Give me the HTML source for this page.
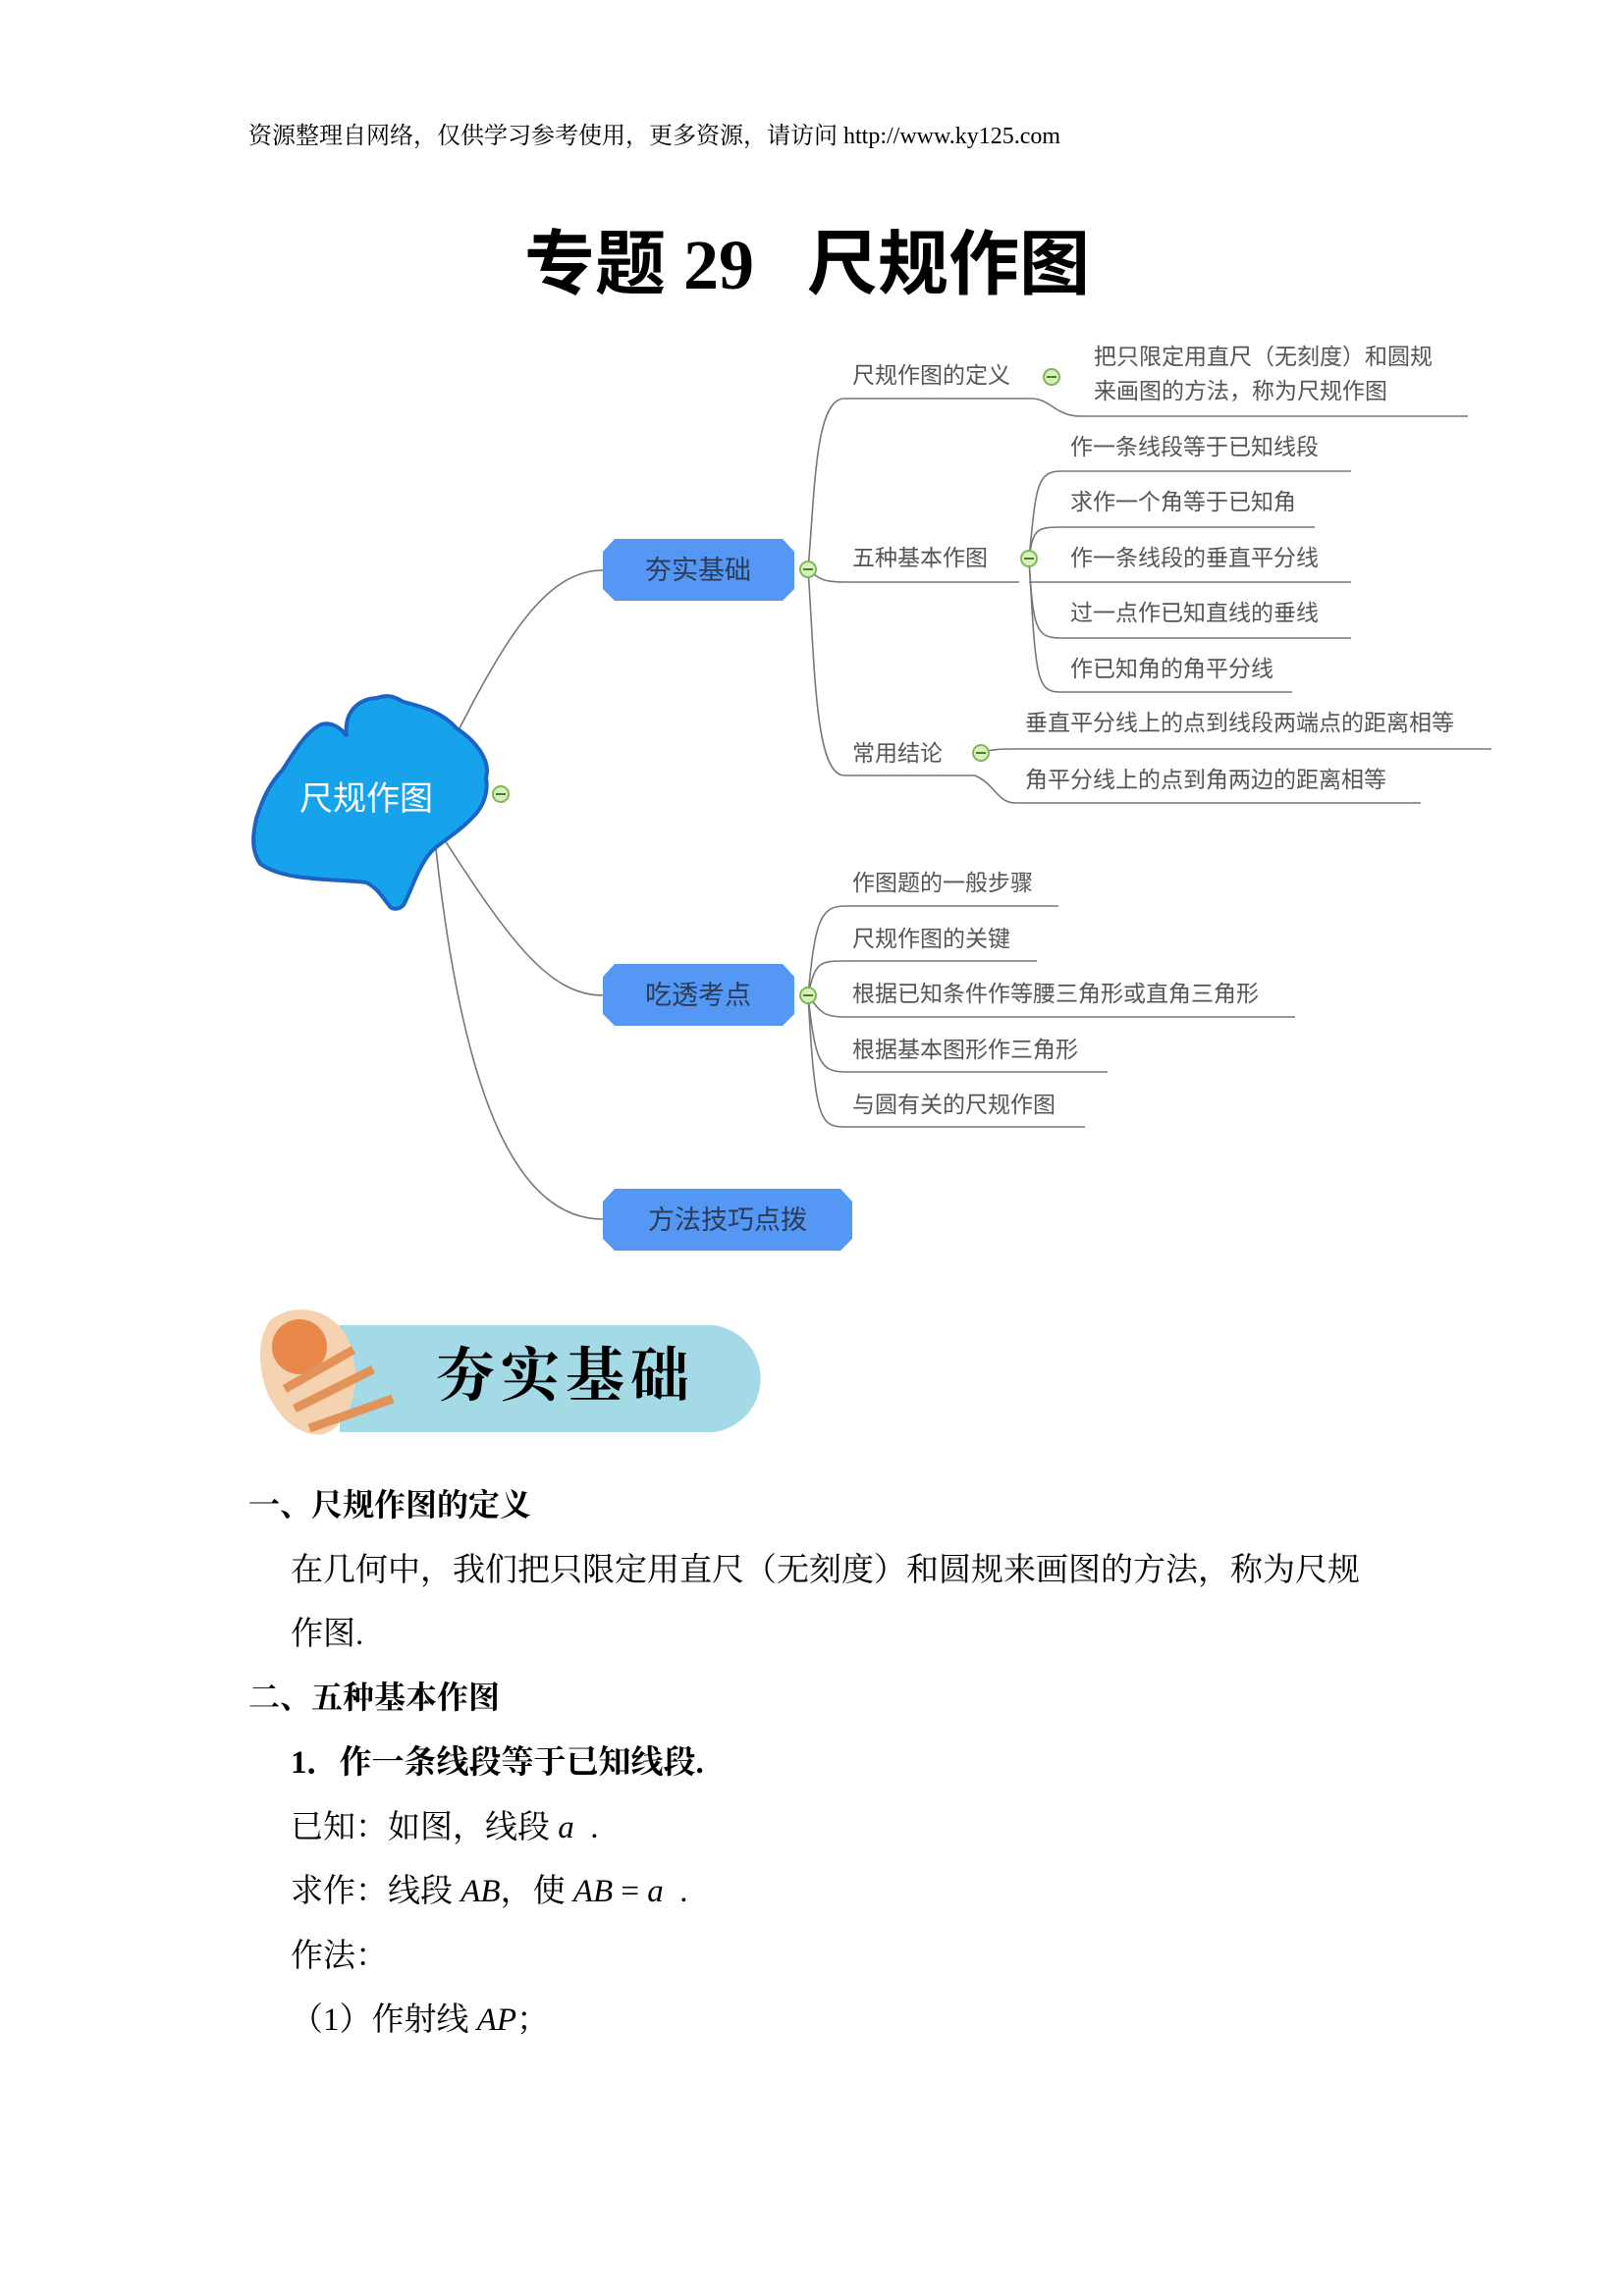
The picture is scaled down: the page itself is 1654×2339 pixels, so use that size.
<!DOCTYPE html>
<html><head><meta charset="utf-8"><style>
html,body{margin:0;padding:0;background:#fff}
body{width:1654px;height:2339px;position:relative;overflow:hidden}
.t{position:absolute;white-space:nowrap;font-family:"Liberation Serif","Noto Serif CJK SC",serif;color:#000}
svg{position:absolute;left:0;top:0}
</style></head><body>
<div class="t" style="left:253px;top:118px;font-size:24px">资源整理自网络，仅供学习参考使用，更多资源，请访问 http://www.ky125.com</div>
<div class="t" style="left:534px;top:210px;font-size:72px;font-weight:bold;font-family:'Liberation Serif','Noto Sans CJK SC',sans-serif">专题 29&nbsp;&nbsp;&nbsp;尺规作图</div>

<svg width="1654" height="2339" viewBox="0 0 1654 2339" font-family="'Liberation Sans','Noto Sans CJK SC',sans-serif">
<g fill="none" stroke="#777" stroke-width="1.6">
<path d="M468 742 C520 640 560 581 614 581"/>
<path d="M451 853 C520 960 560 1014 614 1014"/>
<path d="M444 865 C470 1100 520 1242 614 1242"/>
<path d="M823 580 C830 500 830 406 860 406 L1050 406 C1070 406 1075 424 1100 424 L1495 424"/>
<path d="M823 580 C835 590 838 593 860 593 L1038 593"/>
<path d="M823 580 C830 680 830 790 860 790 L993 790"/>
<path d="M1048 569 C1055 500 1055 480 1080 480 L1376 480"/>
<path d="M1048 569 C1052 540 1055 537 1080 537 L1339 537"/>
<path d="M1048 593 L1376 593"/>
<path d="M1048 569 C1052 640 1055 650 1080 650 L1376 650"/>
<path d="M1048 569 C1055 690 1055 705 1080 705 L1316 705"/>
<path d="M999 767 C1005 765 1010 763 1030 763 L1519 763"/>
<path d="M993 790 C1015 800 1015 818 1035 818 L1447 818"/>
<path d="M823 1014 C830 940 835 923 860 923 L1078 923"/>
<path d="M823 1014 C830 980 835 979 860 979 L1056 979"/>
<path d="M823 1014 C835 1030 838 1036 860 1036 L1319 1036"/>
<path d="M823 1014 C830 1080 835 1092 860 1092 L1128 1092"/>
<path d="M823 1014 C830 1140 835 1148 860 1148 L1105 1148"/>
</g>
<path d="M353 750 C350 725 365 712 384 711 C398 706 405 712 411 715 C430 720 450 725 465 742 C485 755 500 775 495 792 C498 810 490 825 480 834 C465 850 445 860 438 869 C425 885 420 905 411 922 C405 928 398 926 396 922 C390 915 385 905 373 899 C340 895 290 898 265 880 C255 865 258 848 261 834 C268 812 275 798 288 784 C300 765 312 745 327 738 C338 735 348 742 353 750 Z" fill="#17a3ec" stroke="#1c63c4" stroke-width="4"/>
<text x="373" y="825" font-size="34" fill="#fff" text-anchor="middle">尺规作图</text>
<g fill="#5497f5">
<polygon points="626,549 797,549 809,562 809,600 797,612 626,612 614,600 614,562"/>
<polygon points="626,982 797,982 809,995 809,1033 797,1045 626,1045 614,1033 614,995"/>
<polygon points="626,1211 856,1211 868,1224 868,1262 856,1274 626,1274 614,1262 614,1224"/>
</g>
<g font-size="27" fill="#2d3c55" text-anchor="middle">
<text x="711" y="590">夯实基础</text>
<text x="711" y="1023">吃透考点</text>
<text x="741" y="1252">方法技巧点拨</text>
</g>
<g fill="#d8f0c0" stroke="#7cb955" stroke-width="2">
<circle cx="510" cy="809" r="8"/><circle cx="823" cy="580" r="8"/><circle cx="823" cy="1014" r="8"/>
<circle cx="1071" cy="384" r="8"/><circle cx="1048" cy="569" r="8"/><circle cx="999" cy="767" r="8"/>
</g>
<g stroke="#4a7d2c" stroke-width="2">
<line x1="505" y1="809" x2="515" y2="809"/><line x1="818" y1="580" x2="828" y2="580"/><line x1="818" y1="1014" x2="828" y2="1014"/>
<line x1="1066" y1="384" x2="1076" y2="384"/><line x1="1043" y1="569" x2="1053" y2="569"/><line x1="994" y1="767" x2="1004" y2="767"/>
</g>
<g font-size="23" fill="#555">
<text x="868" y="390">尺规作图的定义</text>
<text x="1114" y="371">把只限定用直尺（无刻度）和圆规</text>
<text x="1114" y="406">来画图的方法，称为尺规作图</text>
<text x="868" y="576">五种基本作图</text>
<text x="1090" y="463">作一条线段等于已知线段</text>
<text x="1090" y="519">求作一个角等于已知角</text>
<text x="1090" y="576">作一条线段的垂直平分线</text>
<text x="1090" y="632">过一点作已知直线的垂线</text>
<text x="1090" y="689">作已知角的角平分线</text>
<text x="868" y="775">常用结论</text>
<text x="1044" y="744">垂直平分线上的点到线段两端点的距离相等</text>
<text x="1044" y="802">角平分线上的点到角两边的距离相等</text>
<text x="868" y="907">作图题的一般步骤</text>
<text x="868" y="964">尺规作图的关键</text>
<text x="868" y="1020">根据已知条件作等腰三角形或直角三角形</text>
<text x="868" y="1077">根据基本图形作三角形</text>
<text x="868" y="1133">与圆有关的尺规作图</text>
</g>
<path d="M346 1350 L727 1350 A55 55 0 0 1 727 1459 L346 1459 Z" fill="#a4d9e6"/>
<path d="M275 1345 C300 1325 340 1333 355 1365 C370 1405 360 1450 330 1461 C300 1465 275 1435 268 1405 C262 1380 265 1360 275 1345 Z" fill="#f6d3b0"/>
<ellipse cx="305" cy="1372" rx="28" ry="28" fill="#e8894a"/>
<path d="M300 1435 L380 1395 M315 1455 L400 1425 M290 1415 L360 1375" stroke="#e49358" stroke-width="9"/>
<text x="576" y="1422" font-size="60" font-weight="bold" text-anchor="middle" fill="#000" font-family="'Liberation Serif','Noto Serif CJK SC',serif" letter-spacing="6">夯实基础</text>
</svg>

<div class="t" style="left:253px;top:1508px;font-size:32px;font-weight:bold">一、尺规作图的定义</div>
<div class="t" style="left:296px;top:1573px;font-size:33px">在几何中，我们把只限定用直尺（无刻度）和圆规来画图的方法，称为尺规</div>
<div class="t" style="left:296px;top:1638px;font-size:33px">作图.</div>
<div class="t" style="left:253px;top:1704px;font-size:32px;font-weight:bold">二、五种基本作图</div>
<div class="t" style="left:296px;top:1769px;font-size:33px;font-weight:bold">1．作一条线段等于已知线段.</div>
<div class="t" style="left:296px;top:1835px;font-size:33px">已知：如图，线段 <i>a</i> &nbsp;.</div>
<div class="t" style="left:296px;top:1900px;font-size:33px">求作：线段 <i>AB</i>，使 <i>AB</i> = <i>a</i> &nbsp;.</div>
<div class="t" style="left:296px;top:1966px;font-size:33px">作法：</div>
<div class="t" style="left:296px;top:2031px;font-size:33px">（1）作射线 <i>AP</i>；</div>
</body></html>
